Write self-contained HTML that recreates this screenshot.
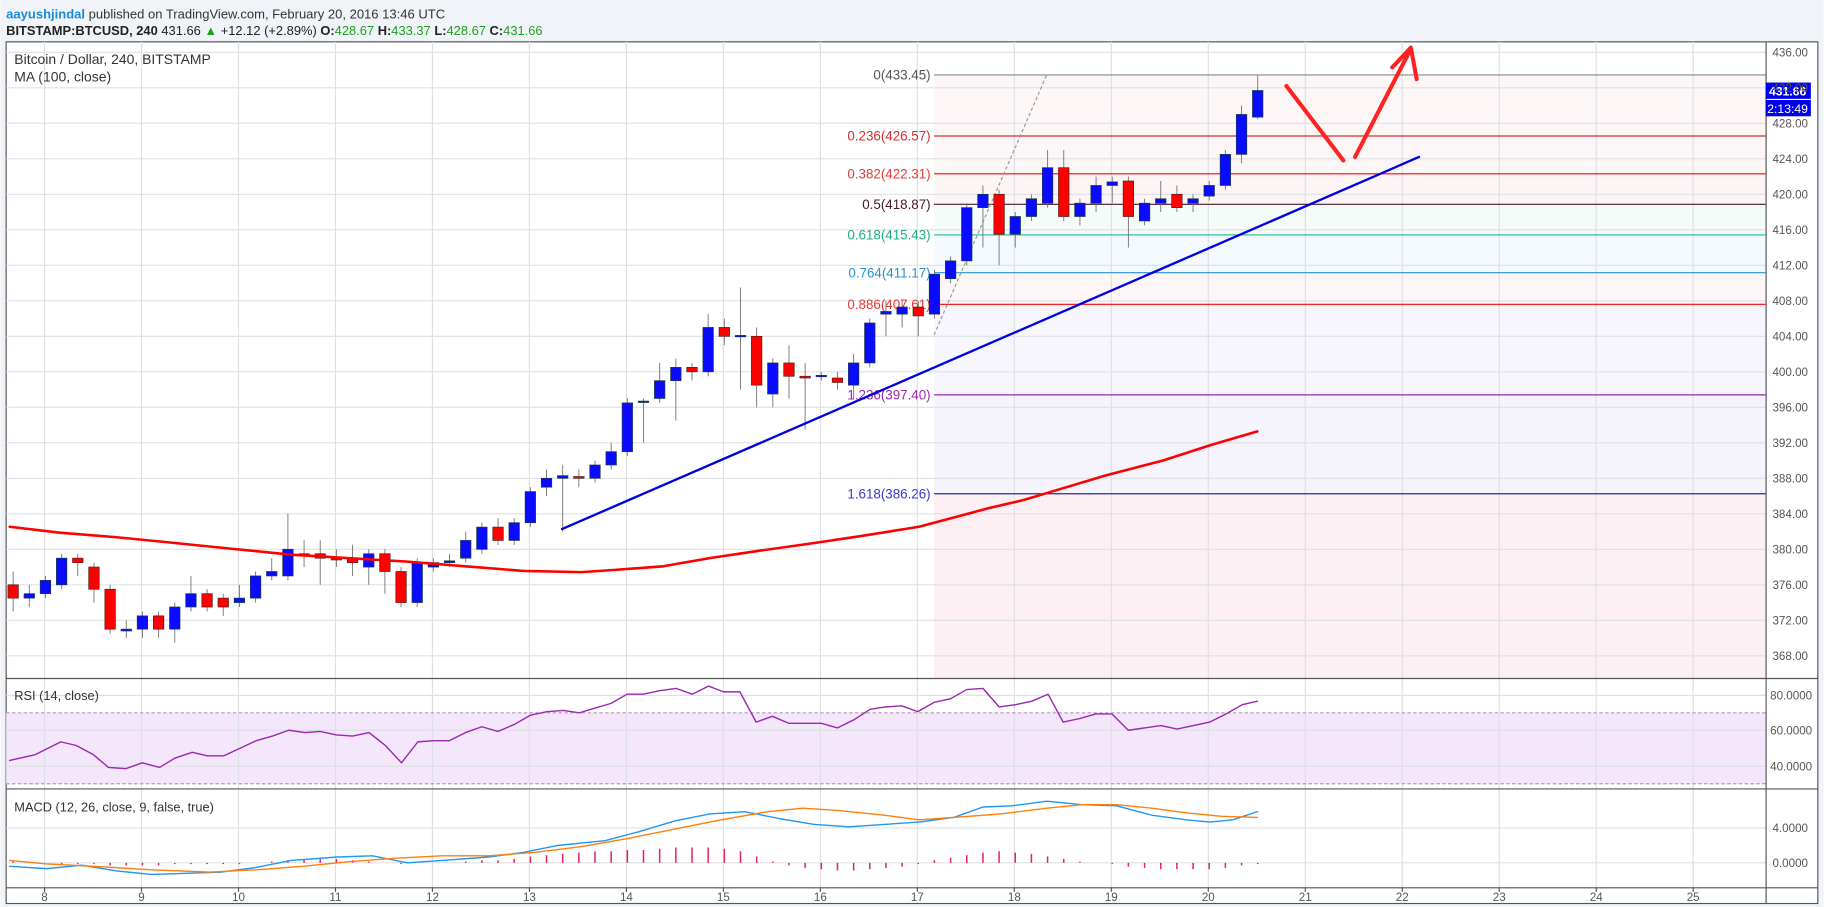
<!DOCTYPE html>
<html><head><meta charset="utf-8"><style>
html,body{margin:0;padding:0;background:#fff;overflow:hidden}
svg{display:block;font-family:"Liberation Sans",sans-serif}
</style></head><body>
<svg id="s" width="1824" height="907" viewBox="0 0 1568 780" xmlns="http://www.w3.org/2000/svg">
<rect x="0" y="0" width="1568" height="780" fill="#f0f3f7"/>
<text x="5" y="16" font-size="11.2" fill="#333"><tspan fill="#1e8ad6" font-weight="bold">aayushjindal</tspan> published on TradingView.com, February 20, 2016 13:46 UTC</text>
<text x="5" y="30" font-size="11.1" fill="#222"><tspan font-weight="bold">BITSTAMP:BTCUSD, 240</tspan> 431.66 <tspan fill="#1ea11e">▲</tspan> +12.12 (+2.89%) <tspan font-weight="bold">O:</tspan><tspan fill="#1ea11e">428.67</tspan> <tspan font-weight="bold">H:</tspan><tspan fill="#1ea11e">433.37</tspan> <tspan font-weight="bold">L:</tspan><tspan fill="#1ea11e">428.67</tspan> <tspan font-weight="bold">C:</tspan><tspan fill="#1ea11e">431.66</tspan></text>
<rect x="5" y="36" width="1558" height="741" fill="#fff" stroke="#555" stroke-width="1"/>
<g id="bg"></g>
<g id="grid" stroke="#dde0e4" stroke-width="1"></g>
<g id="fib"></g>
<g id="cdl"></g>
<g id="ov"></g>
<g id="ax" font-size="10" fill="#555"></g>
<text x="12" y="55" font-size="12" fill="#333">Bitcoin / Dollar, 240, BITSTAMP</text>
<text x="12" y="70" font-size="12" fill="#333">MA (100, close)</text>
<text x="12" y="602" font-size="11" fill="#333">RSI (14, close)</text>
<text x="12" y="698" font-size="11" fill="#333">MACD (12, 26, close, 9, false, true)</text>
</svg>
<script>
const NS="http://www.w3.org/2000/svg";
function el(p,t,a,txt){const e=document.createElementNS(NS,t);for(const k in a)e.setAttribute(k,a[k]);if(txt!==undefined)e.textContent=txt;document.getElementById(p).appendChild(e);return e;}
const Y=p=>45+(436-p)*7.632;
const L=5,R=1518;
el('ov','line',{x1:5,y1:583.5,x2:1563,y2:583.5,stroke:'#555'});
el('ov','line',{x1:5,y1:678.5,x2:1563,y2:678.5,stroke:'#555'});
el('ov','line',{x1:5,y1:763.5,x2:1563,y2:763.5,stroke:'#555'});
el('ov','line',{x1:R+.5,y1:36,x2:R+.5,y2:777,stroke:'#555'});
const fz=[[433.45,426.57,'#fdf6f6'],[426.57,422.31,'#fdf6f6'],[422.31,418.87,'#fdf5f5'],[418.87,415.43,'#f4fbf9'],[415.43,411.17,'#f4f9fd'],[411.17,407.61,'#fdf6f6'],[407.61,397.4,'#f7f6fd'],[397.4,386.26,'#f5f4fc'],[386.26,365,'#fcf0f4']];
fz.forEach(z=>el('bg','rect',{x:803,y:Y(z[0]),width:R-803,height:Math.min(Y(z[1]),583)-Y(z[0]),fill:z[2]}));
el('bg','rect',{x:5,y:613,width:R-5,height:61,fill:'#f4e6fb'});
const days=[8,9,10,11,12,13,14,15,16,17,18,19,20,21,22,23,24,25];
days.forEach((d,i)=>{const x=38+i*83.4;el('grid','line',{x1:x,y1:36,x2:x,y2:763});el('ax','text',{x:x,y:775,'text-anchor':'middle'},d);el('ax','line',{x1:x,y1:763,x2:x,y2:767,stroke:'#555'});});
for(let p=368;p<=436;p+=4){const y=Y(p);el('grid','line',{x1:5,y1:y,x2:R,y2:y});el('ax','text',{x:1524,y:y+3.5},p.toFixed(2));}
[[598,'80.0000'],[628,'60.0000'],[659,'40.0000']].forEach(a=>{el('grid','line',{x1:5,y1:a[0],x2:R,y2:a[0]});el('ax','text',{x:1522,y:a[0]+3.5},a[1]);});
[[712,'4.0000'],[742,'0.0000']].forEach(a=>{el('grid','line',{x1:5,y1:a[0],x2:R,y2:a[0]});el('ax','text',{x:1524,y:a[0]+3.5},a[1]);});
el('ov','line',{x1:5,y1:613,x2:R,y2:613,stroke:'#b49ab8','stroke-dasharray':'3,2'});
el('ov','line',{x1:5,y1:674,x2:R,y2:674,stroke:'#b49ab8','stroke-dasharray':'3,2'});
const fl=[['0',433.45,'#888','#555'],['0.236',426.57,'#d32f2f','#d32f2f'],['0.382',422.31,'#f00','#e53935'],['0.5',418.87,'#4a1a2a','#4a1a2a'],['0.618',415.43,'#35c49a','#1fae7e'],['0.764',411.17,'#2a8fcf','#2a8fcf'],['0.886',407.61,'#f00','#e53935'],['1.236',397.4,'#9c27b0','#9c27b0'],['1.618',386.26,'#2a2aa0','#3a3acf']];
fl.forEach(f=>{const y=Y(f[1]);el('fib','line',{x1:803,y1:y,x2:R,y2:y,stroke:f[2],'stroke-width':1});el('fib','text',{x:800,y:y+4,'text-anchor':'end','font-size':11.5,fill:f[3]},f[0]+'('+f[1].toFixed(2)+')');});
el('fib','line',{x1:803,y1:288,x2:900,y2:64,stroke:'#999','stroke-dasharray':'3,2'});
const C=[[376,374.5,377.5,373],[374.5,375,376,373.5],[375,376.5,377,374.5],[376,379,379.5,375.5],[379,378.5,379.5,377],[378,375.5,378.5,374],[375.5,371,376,370.5],[370.8,371,372,370],[371,372.5,373,370],[372.5,371,373,370],[371,373.5,374,369.5],[373.5,375,377,373],[375,373.5,375.5,373],[374.5,373.5,375,372.5],[374,374.5,376,373.5],[374.5,377,377.5,374],[377,377.5,379,376.5],[377,380,384,376.5],[379.5,379.3,381,378],[379.5,379,381,376],[379,378.8,380,378],[379,378.5,380.5,377],[378,379.5,380,376],[379.5,377.5,380,375],[377.5,374,378,373.5],[374,378.5,379,373.5],[378,378.5,379,377.5],[378.5,378.7,379.5,378],[379,381,382,378.5],[380,382.5,383,379.5],[382.5,381,383.5,380.5],[381,383,383.5,380.5],[383,386.5,387,382.5],[387,388,389,386],[388,388.3,389.5,382],[388.2,388,389,387],[388,389.5,390,387.5],[389.5,391,392,389],[391,396.5,397,390.5],[396.6,396.7,397,392],[397,399,401,396.5],[399,400.5,401.5,394.5],[400.5,400,401,399],[400,405,406.5,399.5],[405,404,406,403],[404,404.1,409.5,398],[404,398.5,405,396],[397.5,401,401.5,396],[401,399.5,403,397],[399.5,399.3,401,393.5],[399.5,399.6,400,399],[399.3,398.8,400,398],[398.5,401,402,397],[401,405.5,406,400.5],[406.5,406.8,408,404],[406.5,407.3,408,405],[407.3,406.3,408,404],[406.5,411,411.5,406],[410.5,412.5,413,410],[412.5,418.5,419,412],[418.5,420,421,414],[420,415.5,420.5,412],[415.5,417.5,418,414],[417.5,419.5,420,417],[419,423,425,418.5],[423,417.5,425,417],[417.5,419,419.5,416.5],[419,421,422,418],[421,421.4,422,419],[421.5,417.5,422,414],[417,419,419.5,416.5],[419,419.5,421.5,418],[420,418.5,421,418],[419,419.5,420,418],[419.8,421,421.5,419.3],[421,424.5,425,420.5],[424.5,429,430,423.5],[428.7,431.7,433.4,428.5]];
C.forEach((c,i)=>{const x=11+13.9*i;const up=c[1]>=c[0];const t=Y(Math.max(c[0],c[1])),b=Y(Math.min(c[0],c[1]));
el('cdl','line',{x1:x,y1:Y(c[2]),x2:x,y2:Y(c[3]),stroke:'#777','stroke-width':.8});
el('cdl','rect',{x:x-4.5,y:t,width:9,height:Math.max(b-t,1.2),fill:up?'#0a0aff':'#ff0000',stroke:up?'#1a3a4a':'#5a1a1a','stroke-width':.6});});
function pl(pts,col,w){el('ov','polyline',{points:pts.map(p=>p.join(',')).join(' '),fill:'none',stroke:col,'stroke-width':w,'stroke-linejoin':'round','stroke-linecap':'round'});}
pl([[8,453],[50,458],[100,462],[150,467],[200,472],[250,477],[300,480],[350,483],[400,487],[450,491],[500,492],[530,490],[570,487],[610,480],[650,474],[700,467],[740,461],[790,453],[820,445],[850,437],[880,430],[910,421],[950,409],[1000,396],[1040,383],[1081,371]],'#f00',2.2);
pl([[483,455],[1220,135]],'#0000e0',2);
pl([[1106,74],[1155,138]],'#f22',3.5);pl([[1165,135],[1213,42]],'#f22',3.5);pl([[1197,58],[1213,41],[1218,68]],'#f22',3.5);
pl([[8,654],[30,649],[52,638],[65,641],[80,649],[93,660],[108,661],[122,656],[137,660],[150,652],[165,647],[178,650],[192,650],[205,644],[220,637],[234,633],[248,628],[262,630],[275,629],[289,632],[303,633],[317,630],[331,641],[345,656],[359,638],[373,637],[386,637],[400,630],[414,625],[428,629],[442,623],[456,615],[470,612],[484,611],[498,613],[511,609],[525,605],[539,597],[553,597],[567,594],[581,592],[595,597],[609,590],[622,595],[636,595],[650,621],[664,616],[678,622],[692,622],[706,622],[720,626],[734,619],[748,610],[761,608],[775,607],[789,612],[803,604],[817,601],[831,593],[845,592],[859,608],[873,606],[887,603],[901,597],[914,621],[928,618],[942,614],[956,614],[970,628],[984,626],[998,624],[1012,627],[1026,624],[1040,621],[1054,614],[1068,606],[1081,603]],'#9c27b0',1.2);
const H=[1,0,0,-1,-1,-1,-2,-2,-2,-2,-1,-1,-1,-1,-1,0,1,2,3,3,3,2,1,0,-1,0,0,0,1,2,2,3,5,6,7,8,9,9,10,10,11,12,12,12,11,9,5,1,-2,-4,-5,-6,-6,-5,-4,-3,-1,2,4,6,8,9,8,7,5,3,1,0,-1,-3,-4,-5,-5,-5,-5,-4,-2,-1];
H.forEach((h,i)=>{const x=11+13.9*i;if(h!=0)el('ov','line',{x1:x,y1:742,x2:x,y2:742-h*1.1,stroke:'#e91e63','stroke-width':1.3});});
pl([[8,745],[40,747],[70,744],[100,749],[130,752],[160,751],[190,750],[220,746],[250,740],[290,737],[320,736],[350,742],[380,740],[420,737],[450,733],[480,727],[520,723],[550,715],[580,706],[610,700],[640,698],[670,704],[700,709],[730,711],[760,709],[790,707],[820,703],[845,694],[870,693],[900,689],[930,692],[960,693],[990,701],[1020,705],[1040,707],[1060,705],[1081,698]],'#2196f3',1.2);
pl([[8,740],[40,743],[80,745],[130,748],[180,750],[220,748],[260,745],[300,741],[340,738],[380,736],[420,736],[460,733],[500,728],[540,721],[580,713],[620,705],[660,698],[690,695],[720,697],[760,701],[790,705],[820,703],[860,700],[900,695],[930,692],[960,692],[990,695],[1020,699],[1050,702],[1081,703]],'#ff7f0e',1.2);
el('ov','rect',{x:1518,y:71,width:39,height:14,fill:'#0000ee'});
el('ov','text',{x:1537,y:82,'text-anchor':'middle','font-size':10.5,fill:'#fff','font-weight':'bold'},'431.66');
el('ov','rect',{x:1518,y:86,width:39,height:14,fill:'#0000ee'});
el('ov','text',{x:1537,y:97,'text-anchor':'middle','font-size':10.5,fill:'#fff'},'2:13:49');
</script>
</body></html>
